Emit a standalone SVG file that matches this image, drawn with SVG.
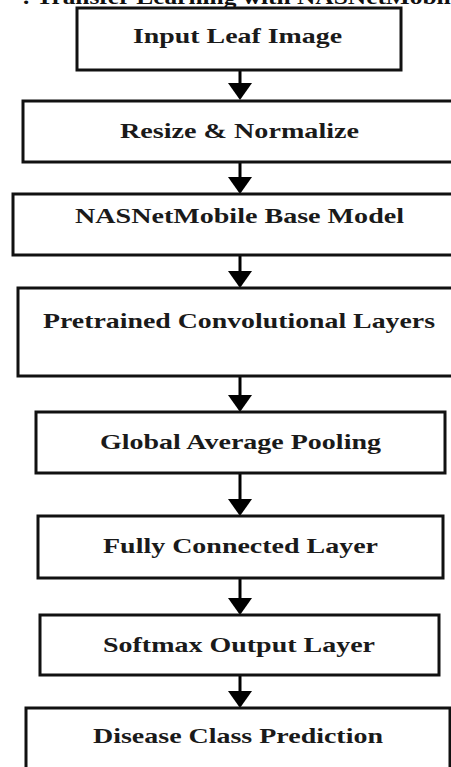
<svg xmlns="http://www.w3.org/2000/svg" width="451" height="767" viewBox="0 0 451 767">
  <style>
    .box { fill: #ffffff; stroke: #111111; stroke-width: 3; }
    .lbl { font-family: "Liberation Serif", "Times New Roman", serif; font-weight: bold; font-size: 22px; fill: #1a1a1a; }
    .title { font-family: "Liberation Serif", "Times New Roman", serif; font-weight: bold; font-size: 20px; fill: #111111; }
    .shaft { stroke: #000000; stroke-width: 3; fill: none; }
  </style>
  <defs>
    <marker id="head" viewBox="0 0 24 18" refX="12" refY="17" markerWidth="24" markerHeight="18" markerUnits="userSpaceOnUse" orient="auto-start-reverse">
      <path d="M0,0 L24,0 L12,18 Z" fill="#000000"/>
    </marker>
  </defs>
  <rect width="451" height="767" fill="#ffffff"/>

  <text class="title" x="22" y="4" textLength="440" lengthAdjust="spacingAndGlyphs">: Transfer Learning with NASNetMobile</text>

  <g id="connectors">
    <path class="shaft" d="M240,70 V84"/>
    <path d="M228,83 L252,83 L240,100 Z"/>
    <path class="shaft" d="M240,162 V178"/>
    <path d="M228,177 L252,177 L240,194 Z"/>
    <path class="shaft" d="M240,255 V272"/>
    <path d="M228,271 L252,271 L240,288 Z"/>
    <path class="shaft" d="M240,376 V396"/>
    <path d="M228,395 L252,395 L240,412 Z"/>
    <path class="shaft" d="M240,473 V500"/>
    <path d="M228,499 L252,499 L240,516 Z"/>
    <path class="shaft" d="M240,578 V599"/>
    <path d="M228,598 L252,598 L240,615 Z"/>
    <path class="shaft" d="M240,675 V692"/>
    <path d="M228,691 L252,691 L240,708 Z"/>
  </g>

  <g id="input-leaf-image">
    <rect class="box" x="77" y="8" width="324" height="62"/>
    <text class="lbl" x="133" y="43" textLength="209" lengthAdjust="spacingAndGlyphs">Input Leaf Image</text>
  </g>
  <g id="resize-normalize">
    <rect class="box" x="23" y="101" width="440" height="61"/>
    <text class="lbl" x="120" y="138" textLength="239" lengthAdjust="spacingAndGlyphs">Resize &amp; Normalize</text>
  </g>
  <g id="nasnetmobile-base">
    <rect class="box" x="13" y="194" width="450" height="61"/>
    <text class="lbl" x="75" y="223" textLength="329" lengthAdjust="spacingAndGlyphs">NASNetMobile Base Model</text>
  </g>
  <g id="pretrained-conv">
    <rect class="box" x="18" y="288" width="445" height="88"/>
    <text class="lbl" x="43" y="328" textLength="392" lengthAdjust="spacingAndGlyphs">Pretrained Convolutional Layers</text>
  </g>
  <g id="global-avg-pooling">
    <rect class="box" x="36" y="412" width="409" height="61"/>
    <text class="lbl" x="100" y="449" textLength="281" lengthAdjust="spacingAndGlyphs">Global Average Pooling</text>
  </g>
  <g id="fully-connected">
    <rect class="box" x="38" y="516" width="405" height="62"/>
    <text class="lbl" x="103" y="553" textLength="275" lengthAdjust="spacingAndGlyphs">Fully Connected Layer</text>
  </g>
  <g id="softmax-output">
    <rect class="box" x="40" y="615" width="399" height="60"/>
    <text class="lbl" x="103" y="652" textLength="272" lengthAdjust="spacingAndGlyphs">Softmax Output Layer</text>
  </g>
  <g id="disease-class">
    <rect class="box" x="26" y="708" width="424" height="70"/>
    <text class="lbl" x="93" y="743" textLength="290" lengthAdjust="spacingAndGlyphs">Disease Class Prediction</text>
  </g>
</svg>
